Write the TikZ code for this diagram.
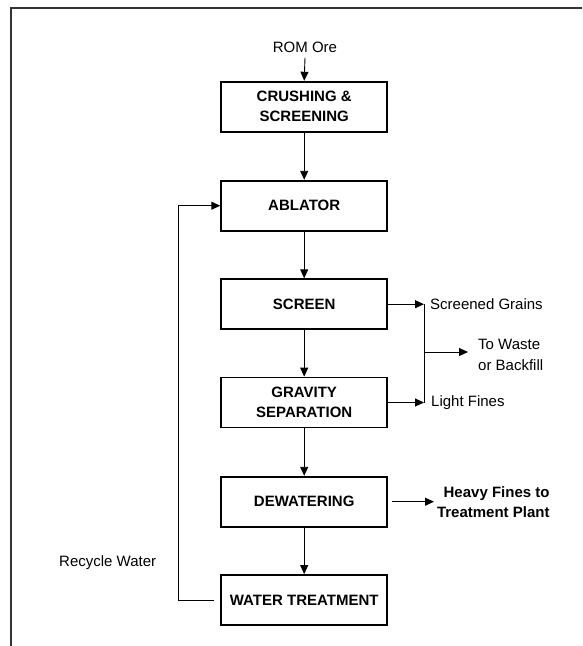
\documentclass[tikz,border=0pt]{standalone}
\usepackage{fontspec}
\setmainfont{Liberation Sans}
\usetikzlibrary{arrows.meta}
\begin{document}
\begin{tikzpicture}[x=1pt,y=-1pt,
  stage/.style={draw,line width=1.8pt,minimum width=166pt,minimum height=50pt,
    inner sep=0pt,align=center,font=\fontsize{15}{20}\selectfont\bfseries},
  flow/.style={line width=0.9pt,-{Triangle[length=9pt,width=8pt]}},
  link/.style={line width=0.9pt},
  lbl/.style={inner sep=0pt,font=\fontsize{15}{21}\selectfont}]
\useasboundingbox (0,0) rectangle (582,646);
% page frame
\draw[line width=2pt,black!80] (11,646) -- (11,8) -- (582,8);

% process stages
\node[lbl,outer sep=5pt] (rom) at (305,47.5) {ROM Ore};
\node[stage] (crush)   at (304.2,106.7) {CRUSHING \&\\SCREENING};
\node[stage] (ablator) at (304.2,205.7) {ABLATOR};
\node[stage] (screen)  at (304.2,304.2) {SCREEN};
\node[stage] (gravity) at (304.2,402.5) {GRAVITY\\SEPARATION};
\node[stage] (dewater) at (304.2,501.7) {DEWATERING};
\node[stage] (water)   at (304.2,600)   {WATER TREATMENT};

% side products
\node[lbl,anchor=west] (grains) at (430,304.2) {Screened Grains};
\node[lbl,anchor=west] (fines)  at (431,402.5) {Light Fines};
\node[lbl,anchor=west,align=left] (waste) at (478,354.5) {To Waste\\or Backfill};
\node[lbl,anchor=west,align=right,font=\fontsize{15}{20}\selectfont\bfseries,outer sep=3pt]
  (heavy) at (434,501.7) {Heavy Fines to\\Treatment Plant};
\node[lbl,anchor=west] (recycle) at (59,563) {Recycle Water};

% main flow
\draw[flow] (rom.south) -- (crush.north);
\draw[flow] (crush) -- (ablator);
\draw[flow] (ablator) -- (screen);
\draw[flow] (screen) -- (gravity);
\draw[flow] (gravity) -- (dewater);
\draw[flow] (dewater) -- (water);

% reject streams
\coordinate (xj) at (424,0);
\coordinate (jMid) at (424,352);
\draw[flow] (screen.east) -- (screen.east -| xj);
\draw[flow] (gravity.east) -- (gravity.east -| xj);
\draw[link] (screen.east -| xj) -- (gravity.east -| xj);
\draw[flow,shorten >=10pt] (jMid) -- (jMid -| waste.west);
\draw[flow] ([xshift=4pt]dewater.east) -- (heavy.west);

% water recycle loop
\coordinate (rx) at (178,0);
\draw[flow] ([xshift=-6pt]water.west) -- (water.west -| rx)
  -- (ablator.west -| rx) -- (ablator.west);
\end{tikzpicture}
\end{document}
